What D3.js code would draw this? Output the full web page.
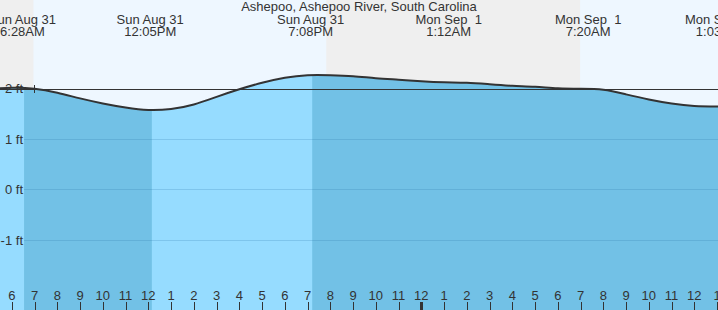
<!DOCTYPE html>
<html><head><meta charset="utf-8">
<script src="https://cdn.jsdelivr.net/npm/d3@7"></script>
<style>
html,body{margin:0;padding:0;background:#fff;}
svg{display:block;font-family:"Liberation Sans",Arial,sans-serif;}
</style></head>
<body>
<svg id="c" width="718" height="310"></svg>
<script>
// hours since Aug 31 00:00
const title = "Ashepoo, Ashepoo River, South Carolina";
const eventHours = [6.467, 12.083, 19.133, 25.2, 31.333, 37.05];
const eventDay = ["Sun Aug 31","Sun Aug 31","Sun Aug 31","Mon Sep  1","Mon Sep  1","Mon Sep  1"];
const eventTime = ["6:28AM","12:05PM","7:08PM","1:12AM","7:20AM","1:03PM"];
// daylight intervals (sunrise, sunset)
const dayStart = [6.95, 30.98];
const dayEnd = [19.82, 43.8];
// shaded (falling) water intervals
const fallStart = [6.467, 19.133];
const fallEnd = [12.083, 40];
// hourly water level, ft
const levelHours = [5,6,7,8,9,10,11,12,13,14,15,16,17,18,19,20,21,22,23,24,25,26,27,28,29,30,31,32,33,34,35,36,37,38];
const levels = [1.99,2.01,1.99,1.91,1.80,1.70,1.62,1.57,1.59,1.68,1.83,1.98,2.11,2.21,2.26,2.26,2.24,2.20,2.17,2.14,2.12,2.11,2.08,2.05,2.03,2.00,1.99,1.97,1.88,1.78,1.70,1.65,1.64,1.64];
const yTicks = [-1,0,1,2];
const hourTicks = d3.range(6,38);
const refLevel = 1.98;

const W = 718, H = 310;
const svg = d3.select("#c");
const x = d3.scaleLinear().domain([5.48, 37.04]).range([0, W]);
const y = d3.scaleLinear().domain([0, 2]).range([189.3, 88.3]);

// sky background (night)
svg.append("rect").attr("x",0).attr("y",0).attr("width",W).attr("height",H).attr("fill","#efefef");
dayStart.forEach((s,i)=>{
  svg.append("rect").attr("x",x(s)).attr("y",0).attr("width",x(dayEnd[i])-x(s)).attr("height",H).attr("fill","#eef7ff");
});

const data = levelHours.map((h,i)=>({h, v: levels[i]}));
const area = d3.area().x(d=>x(d.h)).y0(H).y1(d=>y(d.v)).curve(d3.curveNatural);
const line = d3.line().x(d=>x(d.h)).y(d=>y(d.v)).curve(d3.curveNatural);

svg.append("clipPath").attr("id","wclip").append("path").attr("d", area(data));
svg.append("path").attr("d", area(data)).attr("fill","#96dcff");
const g = svg.append("g").attr("clip-path","url(#wclip)");
fallStart.forEach((s,i)=>{
  g.append("rect").attr("x",x(s)+1.6).attr("y",0).attr("width",x(fallEnd[i])-x(s)).attr("height",H).attr("fill","#72c1e6");
});
// gridlines
yTicks.filter(t=>t<2).forEach(t=>{
  g.append("line").attr("x1",24).attr("x2",W).attr("y1",Math.round(y(t))+0.5).attr("y2",Math.round(y(t))+0.5)
    .attr("stroke","#2a78aa").attr("stroke-opacity",0.22).attr("stroke-width",1);
});

// reference line
svg.append("line").attr("x1",0).attr("x2",W).attr("y1",Math.round(y(refLevel))+0.5).attr("y2",Math.round(y(refLevel))+0.5)
  .attr("stroke","#333").attr("stroke-width",1);
svg.append("line").attr("x1",34.5).attr("x2",34.5).attr("y1",85).attr("y2",93).attr("stroke","#333").attr("stroke-width",1);

// water line
svg.append("path").attr("d", line(data)).attr("fill","none").attr("stroke","#333").attr("stroke-width",2);

// y labels
yTicks.forEach(t=>{
  svg.append("text").attr("x",23).attr("y",y(t)+5).attr("text-anchor","end")
    .attr("font-size",13).attr("fill","#333").text(t+" ft");
});

// title and event labels
svg.append("text").attr("x",359).attr("y",11).attr("text-anchor","middle").attr("font-size",13).attr("fill","#333").text(title);
eventHours.forEach((h,i)=>{
  svg.append("text").attr("x",x(h)).attr("y",24).attr("text-anchor","middle").attr("font-size",13).attr("fill","#333")
    .attr("xml:space","preserve").style("white-space","pre").text(eventDay[i]);
  svg.append("text").attr("x",x(h)).attr("y",36).attr("text-anchor","middle").attr("font-size",13).attr("fill","#333").text(eventTime[i]);
});

// hour axis
hourTicks.forEach(h=>{
  const xx = Math.round(x(h))+0.5;
  const lab = ((h%12)===0)?12:(h%12);
  svg.append("text").attr("x",x(h)).attr("y",300).attr("text-anchor","middle").attr("font-size",13).attr("fill","#333").text(lab);
  svg.append("line").attr("x1",xx).attr("x2",xx).attr("y1",302).attr("y2",H)
    .attr("stroke","#333").attr("stroke-width",h===24?3:1);
});
</script>
</body></html>
